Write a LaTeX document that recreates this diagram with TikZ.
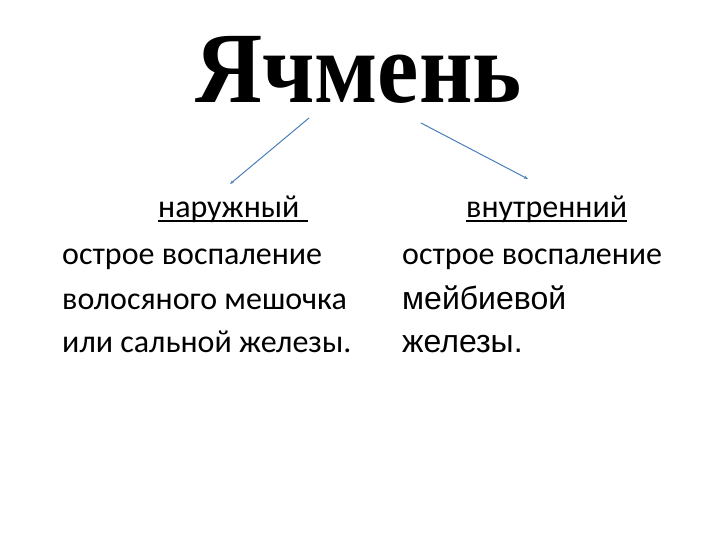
\documentclass[tikz,border=0pt]{standalone}
\usepackage{fontspec}
\setmainfont{Carlito}
\newfontfamily\calfont{Carlito}
\newfontfamily\arifont{Liberation Sans}
\newfontfamily\tmsfont{Liberation Serif}
\usetikzlibrary{arrows.meta}
\definecolor{arrowblue}{HTML}{4A7EBB}
\begin{document}
\begin{tikzpicture}[x=1pt,y=1pt,
  cal/.style={inner sep=0pt,anchor=base west,font=\calfont\fontsize{32}{38}\selectfont},
  ari/.style={inner sep=0pt,anchor=base west,font=\arifont\fontsize{32}{38}\selectfont},
  uline/.style={line width=1.8pt},
  conn/.style={draw=arrowblue,line width=1pt,-{Stealth[length=4pt,width=3pt]}}]
\useasboundingbox (0,0) rectangle (720,540);
\node[inner sep=0pt,anchor=base,font=\tmsfont\bfseries\fontsize{101}{120}\selectfont] (title) at (358.5,437) {\scalebox{0.92}[1]{Ячмень}};
\node[cal] (nar) at (158,322) {наружный\hspace*{8pt}};
\node[cal] (vnu) at (466,322) {внутренний};
\draw[uline] ([yshift=-3pt]nar.base west) -- ([yshift=-3pt]nar.base east);
\draw[uline] ([yshift=-3pt]vnu.base west) -- ([yshift=-3pt]vnu.base east);
\node[cal] (l1) at (62,275) {острое воспаление};
\node[cal] (l2) at (62,230) {волосяного мешочка};
\node[cal] (l3) at (62,187) {или сальной железы.};
\node[cal] (r1) at (402,275) {острое воспаление};
\node[ari] (r2) at (402,230) {мейбиевой};
\node[ari] (r3) at (402,187) {железы.};
\coordinate (la) at (309,422);
\coordinate (lb) at (230,356);
\coordinate (ra) at (421,417);
\coordinate (rb) at (528,361);
\draw[conn] (la) -- (lb);
\draw[conn] (ra) -- (rb);
\end{tikzpicture}
\end{document}
